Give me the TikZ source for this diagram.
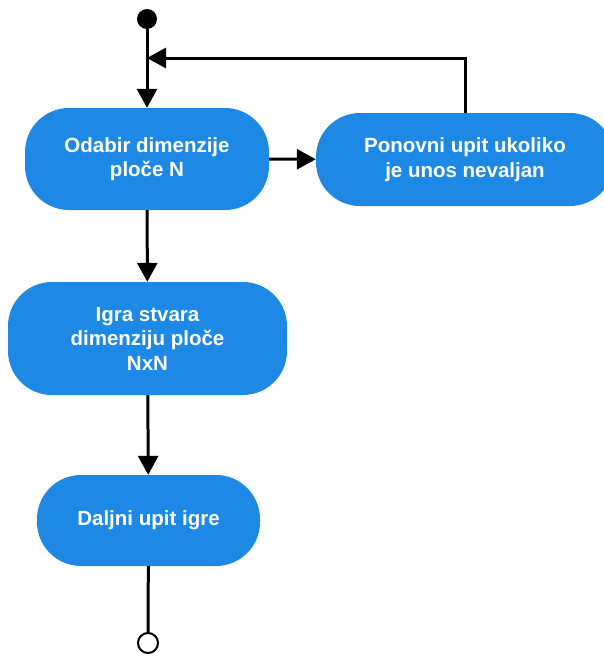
\documentclass[tikz,border=0pt]{standalone}
\usepackage{fontspec}
\setmainfont{Liberation Sans}
\usetikzlibrary{arrows.meta}
\definecolor{plava}{RGB}{30,136,229}
\begin{document}
\begin{tikzpicture}[x=1pt, y=-1pt,
		align=center,
		every node/.style={inner sep=0pt},
		korak/.style={fill=plava, rounded corners=44pt, text=white,
			font=\bfseries\fontsize{20.5}{24.5}\selectfont},
		tok/.style={line width=3pt, -{Triangle[length=19pt,width=20pt]}},
		linija/.style={line width=3pt}]
		
		\useasboundingbox (0,0) rectangle (604,657);
		
		\node[circle, fill=black, minimum size=20pt] (pocetak) at (147,19) {};
		\coordinate (spoj) at (147,58);
		
		\node[korak, minimum width=244pt, minimum height=102pt] (odabir) at (147,159) {Odabir dimenzije\\ploče N};
		\node[korak, minimum width=298pt, minimum height=93pt] (ponovni) at (465,159.5) {Ponovni upit ukoliko\\je unos nevaljan};
		\node[korak, minimum width=279pt, minimum height=113pt] (igra) at (147.5,338.5) {Igra stvara\\dimenziju ploče\\NxN};
		\node[korak, minimum width=223pt, minimum height=91pt] (daljnji) at (148.5,520.5) {Daljni upit igre};
		
		\node[circle, draw=black, fill=white, line width=2pt, minimum size=20pt] (kraj) at (148,643) {};
		
		\draw[tok] (pocetak) -- (odabir);
		\draw[tok] (ponovni.north) |- (spoj);
		\draw[tok] (odabir) -- (ponovni);
		\draw[tok] (odabir) -- (igra);
		\draw[tok] (igra) -- (daljnji);
		\draw[linija] (daljnji) -- (kraj);
		
	\end{tikzpicture}
\end{document}
